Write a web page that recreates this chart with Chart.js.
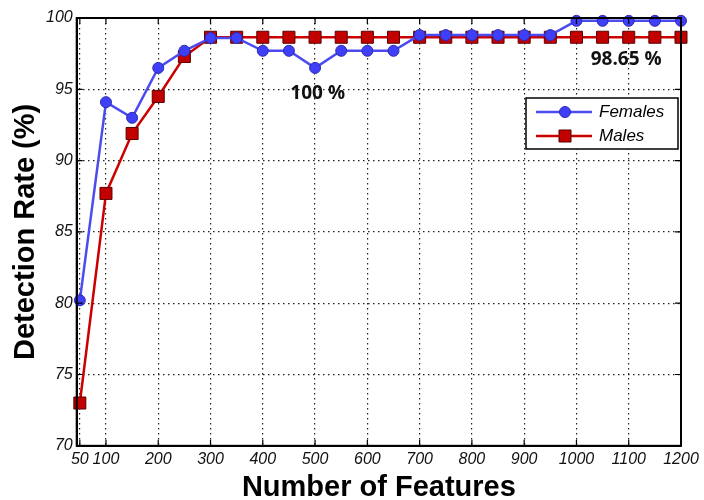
<!DOCTYPE html>
<html>
<head>
<meta charset="utf-8">
<script src="https://cdn.jsdelivr.net/npm/chart.js@4/dist/chart.umd.min.js"></script>
<style>
  html, body { margin: 0; padding: 0; background: #fff; }
  #wrap { width: 704px; height: 500px; }
</style>
</head>
<body>
<div id="wrap"><canvas id="chart" width="704" height="500"></canvas></div>
<script>
// number of features on the x axis
const features = [50, 100, 150, 200, 250, 300, 350, 400, 450, 500, 550, 600,
  650, 700, 750, 800, 850, 900, 950, 1000, 1050, 1100, 1150, 1200];
const females = [80.2, 94.1, 93.0, 96.5, 97.7, 98.6, 98.6, 97.7, 97.7, 96.5, 97.7, 97.7,
  97.7, 98.8, 98.8, 98.8, 98.8, 98.8, 98.8, 99.8, 99.8, 99.8, 99.8, 99.8];
const males = [73.0, 87.7, 91.9, 94.5, 97.3, 98.65, 98.65, 98.65, 98.65, 98.65, 98.65, 98.65,
  98.65, 98.65, 98.65, 98.65, 98.65, 98.65, 98.65, 98.65, 98.65, 98.65, 98.65, 98.65];
const xTicks = [50, 100, 200, 300, 400, 500, 600, 700, 800, 900, 1000, 1100, 1200];
const yTicks = [70, 75, 80, 85, 90, 95, 100];
const notes = [
  { text: '100 %', x: 505, y: 94.7 },
  { text: '98.65 %', x: 1095, y: 97.05 }
];

const toPoints = ys => features.map((x, i) => ({ x: x, y: ys[i] }));

// frame + inward tick marks, matlab style
const framePlugin = {
  id: 'frame',
  afterDraw(chart) {
    const { ctx, chartArea: a, scales } = chart;
    ctx.save();
    ctx.strokeStyle = '#000';
    ctx.lineWidth = 2;
    ctx.strokeRect(a.left, a.top, a.right - a.left, a.bottom - a.top);
    ctx.lineWidth = 1.2;
    ctx.beginPath();
    xTicks.forEach(v => {
      const px = scales.x.getPixelForValue(v);
      ctx.moveTo(px, a.bottom); ctx.lineTo(px, a.bottom - 6);
      ctx.moveTo(px, a.top); ctx.lineTo(px, a.top + 6);
    });
    yTicks.forEach(v => {
      const py = scales.y.getPixelForValue(v);
      ctx.moveTo(a.left, py); ctx.lineTo(a.left + 6, py);
      ctx.moveTo(a.right, py); ctx.lineTo(a.right - 6, py);
    });
    ctx.stroke();
    ctx.restore();
  }
};

const notesPlugin = {
  id: 'notes',
  afterDatasetsDraw(chart) {
    const { ctx, scales } = chart;
    ctx.save();
    ctx.font = 'bold 19px "Open Sans", sans-serif';
    ctx.fillStyle = '#111';
    ctx.textAlign = 'center';
    ctx.textBaseline = 'middle';
    notes.forEach(n => {
      ctx.fillText(n.text, scales.x.getPixelForValue(n.x), scales.y.getPixelForValue(n.y));
    });
    ctx.restore();
  }
};

const legendPlugin = {
  id: 'boxLegend',
  afterDraw(chart) {
    const { ctx, chartArea: a } = chart;
    const w = 152, h = 51;
    const x0 = a.right - w - 3, y0 = a.top + 80;
    ctx.save();
    ctx.fillStyle = '#fff';
    ctx.fillRect(x0, y0, w, h);
    ctx.strokeStyle = '#000';
    ctx.lineWidth = 1.5;
    ctx.strokeRect(x0, y0, w, h);
    ctx.font = 'italic 17px "Liberation Sans", Arial, sans-serif';
    ctx.textBaseline = 'middle';
    chart.data.datasets.forEach((ds, i) => {
      const cy = y0 + 14 + i * 24;
      ctx.strokeStyle = ds.borderColor;
      ctx.lineWidth = ds.borderWidth;
      ctx.beginPath();
      ctx.moveTo(x0 + 10, cy); ctx.lineTo(x0 + 66, cy);
      ctx.stroke();
      ctx.fillStyle = ds.pointBackgroundColor;
      ctx.strokeStyle = ds.pointBorderColor;
      ctx.lineWidth = ds.pointBorderWidth;
      ctx.beginPath();
      if (ds.pointStyle === 'rect') {
        const s = Math.SQRT1_2 * ds.pointRadius;
        ctx.rect(x0 + 39 - s, cy - s, 2 * s, 2 * s);
      } else {
        ctx.arc(x0 + 39, cy, ds.pointRadius, 0, Math.PI * 2);
      }
      ctx.fill(); ctx.stroke();
      ctx.fillStyle = '#000';
      ctx.fillText(ds.label, x0 + 73, cy);
    });
    ctx.restore();
  }
};

const ctx = document.getElementById('chart').getContext('2d');
new Chart(ctx, {
  type: 'line',
  data: {
    datasets: [
      {
        label: 'Females',
        data: toPoints(females),
        borderColor: '#4b4bf0',
        borderWidth: 2.5,
        pointStyle: 'circle',
        pointRadius: 5.5,
        pointBackgroundColor: '#3f3ff7',
        pointBorderColor: '#2b2bb5',
        pointBorderWidth: 1,
        tension: 0,
        clip: false
      },
      {
        label: 'Males',
        data: toPoints(males),
        borderColor: '#cc0000',
        borderWidth: 2.5,
        pointStyle: 'rect',
        pointRadius: 8.5,
        pointBackgroundColor: '#c20000',
        pointBorderColor: '#5a0000',
        pointBorderWidth: 1,
        tension: 0,
        clip: false
      }
    ]
  },
  options: {
    responsive: false,
    animation: false,
    layout: { padding: { left: 11, right: 23, top: 18, bottom: -2 } },
    plugins: {
      legend: { display: false },
      tooltip: { enabled: false }
    },
    scales: {
      x: {
        type: 'linear',
        min: 44,
        max: 1200,
        afterBuildTicks: scale => { scale.ticks = xTicks.map(v => ({ value: v })); },
        ticks: {
          color: '#111',
          padding: 4,
          maxRotation: 0,
          autoSkip: false,
          callback: v => String(v),
          font: { family: '"Liberation Sans", Arial, sans-serif', size: 16, style: 'italic' }
        },
        grid: { color: '#222', lineWidth: 1.2, drawTicks: false },
        border: { display: true, color: '#000', width: 2, dash: [1.5, 3.5] },
        title: {
          display: true,
          text: 'Number of Features',
          color: '#000',
          padding: { top: 0, bottom: 0 },
          font: { family: '"Liberation Sans", Arial, sans-serif', size: 29, weight: 'bold', lineHeight: 1 }
        }
      },
      y: {
        min: 70,
        max: 100,
        afterBuildTicks: scale => { scale.ticks = yTicks.map(v => ({ value: v })); },
        ticks: {
          color: '#111',
          padding: 4,
          callback: v => String(v),
          font: { family: '"Liberation Sans", Arial, sans-serif', size: 16, style: 'italic' }
        },
        grid: { color: '#222', lineWidth: 1.2, drawTicks: false },
        border: { display: true, color: '#000', width: 2, dash: [1.5, 3.5] },
        title: {
          display: true,
          text: 'Detection Rate (%)',
          color: '#000',
          padding: { top: 0, bottom: 2 },
          font: { family: '"Liberation Sans", Arial, sans-serif', size: 29, weight: 'bold', lineHeight: 1 }
        }
      }
    }
  },
  plugins: [framePlugin, notesPlugin, legendPlugin]
});
</script>
</body>
</html>
